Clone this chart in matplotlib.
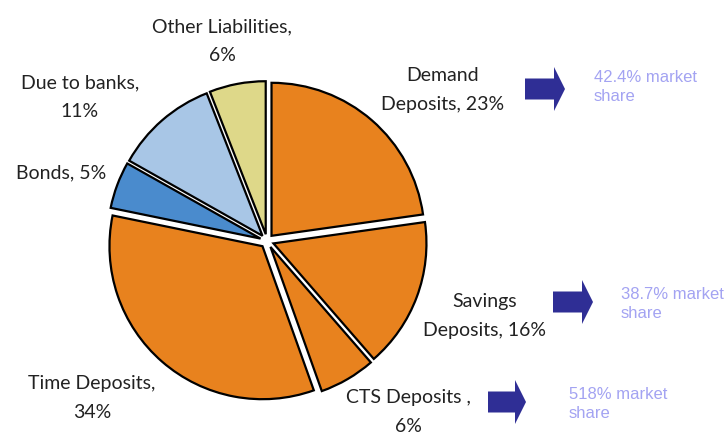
import matplotlib
matplotlib.use("Agg")
import matplotlib.pyplot as plt
from matplotlib.patches import FancyArrow

# Liabilities breakdown (share of total)
labels = ["Demand\nDeposits, 23%", "Savings\nDeposits, 16%", "CTS Deposits ,\n6%",
          "Time Deposits,\n34%", "Bonds, 5%", "Due to banks,\n11%", "Other Liabilities,\n6%"]
shares = [23, 16, 6, 34, 5, 11, 6]
colors = ["#E8821E", "#E8821E", "#E8821E", "#E8821E", "#4A8BCD", "#A8C6E6", "#DED889"]

# market share callouts next to the deposit slices
market_text = ["42.4% market\nshare", "38.7% market\nshare", "518% market\nshare"]

W, H = 725, 432
fig = plt.figure(figsize=(W / 100, H / 100), dpi=100)
ax = fig.add_axes([0, 0, 1, 1])

# pie in pixel coordinates (y measured from bottom)
cx, cy, r = 267, H - 241, 153
ax.pie(shares, colors=colors, startangle=90, counterclock=False,
       center=(cx, cy), radius=r, explode=[0.045 * r] * len(shares),
       wedgeprops=dict(edgecolor="black", linewidth=1.6))

ax.set_xlim(0, W)
ax.set_ylim(0, H)
ax.set_aspect("equal")
ax.axis("off")

# slice labels
lab_pos = [(443, H - 90), (485, H - 316), (408, H - 412), (92, H - 398),
           (61, H - 173), (80, H - 97), (222, H - 41)]
for txt, (x, y) in zip(labels, lab_pos):
    ax.text(x, y, txt, ha="center", va="center", fontsize=14,
            family="Lato", color="#222222", linespacing=1.85)

# arrows + market share
arrow_pos = [(525, 565, H - 89), (553, 593, H - 302), (488, 526, H - 402)]
text_pos = [(594, H - 87), (621, H - 304), (569, H - 404)]
for (x0, x1, y), txt, (tx, ty) in zip(arrow_pos, market_text, text_pos):
    ax.add_patch(FancyArrow(x0, y, x1 - x0, 0, width=21, head_width=44,
                            head_length=11, length_includes_head=True,
                            color="#2F2E95", linewidth=0))
    ax.text(tx, ty, txt, ha="left", va="center", fontsize=12,
            family="Liberation Sans", color="#A3A3F2", linespacing=1.3)

fig.savefig("out.png", dpi=100)
